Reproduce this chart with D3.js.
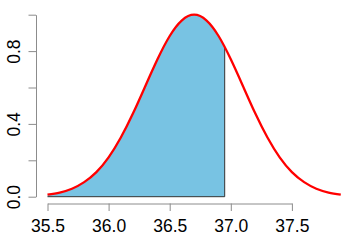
<!DOCTYPE html>
<html>
<head>
<meta charset="utf-8">
<script src="https://cdn.jsdelivr.net/npm/d3@7"></script>
<style>
  body { margin: 0; background: #fff; }
  text { font-family: "Liberation Sans", Arial, sans-serif; }
</style>
</head>
<body>
<div id="chart"></div>
<script>
// values (x every 0.1)
var temps = [35.5, 35.6, 35.7, 35.8, 35.9, 36.0, 36.1, 36.2, 36.3, 36.4, 36.5, 36.6, 36.7,
             36.8, 36.9, 37.0, 37.1, 37.2, 37.3, 37.4, 37.5, 37.6, 37.7, 37.8, 37.9];
var dens = [0.011, 0.023, 0.044, 0.080, 0.135, 0.216, 0.325, 0.458, 0.607, 0.755, 0.883, 0.969, 1.0,
            0.969, 0.883, 0.755, 0.607, 0.458, 0.325, 0.216, 0.135, 0.080, 0.044, 0.023, 0.011];
var cutoff = 36.95, cutoffDens = 0.822;
var xTicks = [35.5, 36.0, 36.5, 37.0, 37.5];
var yTicks = [0, 0.2, 0.4, 0.6, 0.8, 1.0];
var yLabels = ["0.0", "", "0.4", "", "0.8", ""];

var width = 360, height = 240;

var data = temps.map(function(t, i) { return {t: t, d: dens[i]}; });

var x = d3.scaleLinear().domain([35.5, 37.5]).range([47.5, 291.9]);
var y = d3.scaleLinear().domain([0, 1]).range([196.7, 14.7]);

var svg = d3.select("#chart").append("svg")
    .attr("width", width)
    .attr("height", height);

// clip for the shaded part
svg.append("clipPath").attr("id", "shade")
  .append("rect")
    .attr("x", x(35.5))
    .attr("y", 0)
    .attr("width", x(cutoff) - x(35.5))
    .attr("height", height);

var area = d3.area()
    .curve(d3.curveNatural)
    .x(function(d) { return x(d.t); })
    .y0(y(0))
    .y1(function(d) { return y(d.d); });

var line = d3.line()
    .curve(d3.curveNatural)
    .x(function(d) { return x(d.t); })
    .y(function(d) { return y(d.d); });

svg.append("path")
    .datum(data)
    .attr("clip-path", "url(#shade)")
    .attr("fill", "#78c3e3")
    .attr("d", area);

// polygon border: bottom and right edge
svg.append("path")
    .attr("fill", "none")
    .attr("stroke", "#333")
    .attr("stroke-width", 1)
    .attr("d", "M" + x(35.5) + "," + y(0) + "H" + x(cutoff) + "V" + y(cutoffDens));

svg.append("path")
    .datum(data)
    .attr("fill", "none")
    .attr("stroke", "#ff0000")
    .attr("stroke-width", 2.3)
    .attr("d", line);

// x axis
var gx = svg.append("g")
    .attr("transform", "translate(0,203.5)")
    .call(d3.axisBottom(x).tickValues(xTicks).tickSize(7.5).tickSizeOuter(0)
      .tickFormat(d3.format(".1f")));
gx.selectAll("text").attr("font-size", 17.5).attr("fill", "#000").attr("y", 28.5).attr("dy", 0)
  .style("font-family", "Liberation Sans, Arial, sans-serif");

// y axis
var gy = svg.append("g")
    .attr("transform", "translate(36,0)")
    .call(d3.axisLeft(y).tickValues(yTicks).tickSize(7.5).tickSizeOuter(0)
      .tickFormat(function(d, i) { return yLabels[i]; }));
gy.selectAll("text")
    .attr("font-size", 17.5).attr("fill", "#000")
    .attr("x", null).attr("dy", null)
    .attr("text-anchor", "middle")
    .attr("transform", "translate(-16.5,0) rotate(-90)")
    .style("font-family", "Liberation Sans, Arial, sans-serif");

svg.selectAll(".domain, .tick line").attr("stroke", "#8c8c8c").attr("stroke-width", 1);
</script>
</body>
</html>
